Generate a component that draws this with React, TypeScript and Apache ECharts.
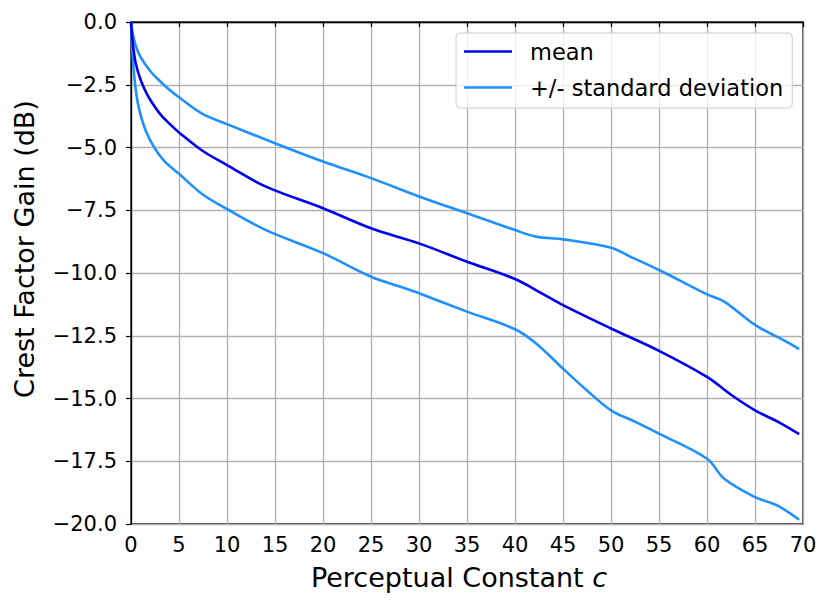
import React, { useEffect, useRef } from "react";
import * as echarts from "echarts";

const meanX = [0, 0.2, 0.5, 1, 1.5, 2, 3, 4, 5, 7.4, 10, 14, 20, 25, 30, 35, 40, 42.5, 45, 50, 55, 60, 62.5, 65, 67.5, 69.6];
const meanY = [0, -0.9, -1.65, -2.3, -2.75, -3.1, -3.65, -4.05, -4.4, -5.12, -5.7, -6.55, -7.42, -8.22, -8.82, -9.55, -10.24, -10.75, -11.28, -12.21, -13.1, -14.14, -14.85, -15.47, -15.95, -16.42];

const upperX = [0, 0.2, 0.5, 1, 2, 3, 4, 5, 7.4, 10, 15, 20, 25, 30, 35, 40, 42.2, 45, 50, 52, 55, 60, 61.8, 65, 68.3, 69.6];
const upperY = [0, -0.5, -0.95, -1.4, -1.95, -2.35, -2.7, -3.0, -3.65, -4.07, -4.83, -5.56, -6.22, -6.95, -7.62, -8.29, -8.55, -8.66, -8.99, -9.35, -9.88, -10.85, -11.14, -12.07, -12.74, -13.03];

const lowerX = [0, 0.15, 0.4, 0.8, 1.5, 2.5, 3.5, 5, 7.4, 10, 14, 20, 25, 28, 30, 35, 40, 42.2, 45, 47.5, 50, 52.6, 55, 60, 61.8, 65, 67.3, 69.6];
const lowerY = [0, -1.2, -2.4, -3.4, -4.3, -5.05, -5.55, -6.05, -6.85, -7.45, -8.28, -9.21, -10.15, -10.54, -10.81, -11.54, -12.24, -12.81, -13.81, -14.68, -15.47, -15.94, -16.4, -17.4, -18.2, -18.93, -19.26, -19.83];

const seriesNames = ["mean", "+/- standard deviation"];
const xLabel = "Perceptual Constant ";
const xLabelItalic = "c";
const yLabel = "Crest Factor Gain (dB)";

const pairs = (xs: number[], ys: number[]) => xs.map((x, i) => [x, ys[i]]);

const FONT = "DejaVu Sans";

export default function App() {
  const ref = useRef<HTMLDivElement>(null);
  useEffect(() => {
    if (!ref.current) return;
    const chart = echarts.init(ref.current, null, { renderer: "svg" });
    const lineStyleStd = { color: "#1e90ff", width: 2.6 };
    chart.setOption({
      animation: false,
      textStyle: { fontFamily: FONT },
      grid: {
        left: 131,
        right: 28,
        top: 22,
        bottom: 86,
        show: true,
        borderColor: "#000",
        borderWidth: 1.3,
        backgroundColor: "transparent",
      },
      legend: {
        orient: "vertical",
        left: 456,
        top: 33,
        data: seriesNames.map((n) => ({ name: n })),
        icon: "rect",
        itemWidth: 48,
        itemHeight: 2.7,
        itemGap: 13,
        textStyle: { fontSize: 22.5, color: "#000", fontFamily: FONT, padding: [0, 0, 0, 13] },
        backgroundColor: "rgba(255,255,255,0.8)",
        borderColor: "#cccccc",
        borderWidth: 1,
        borderRadius: 4,
        padding: [7, 9, 9, 8],
      },
      xAxis: {
        type: "value",
        min: 0,
        max: 70,
        interval: 5,
        axisLine: { show: true, lineStyle: { color: "#000", width: 1.3 } },
        axisTick: { show: true, length: 5, lineStyle: { color: "#000", width: 1.2 } },
        axisLabel: { fontSize: 21, color: "#000", margin: 10, fontFamily: FONT },
        splitLine: { show: true, lineStyle: { color: "#b0b0b0", width: 1.3 } },
        name: `{a|${xLabel}}{b|${xLabelItalic}}`,
        nameLocation: "middle",
        nameGap: 40,
        nameTextStyle: {
          padding: [0, 16, 0, 0],
          rich: {
            a: { fontSize: 27, color: "#000", fontFamily: FONT },
            b: { fontSize: 27, color: "#000", fontFamily: FONT, fontStyle: "italic" },
          },
        },
      },
      yAxis: {
        type: "value",
        min: -20,
        max: 0,
        interval: 2.5,
        axisLine: { show: true, lineStyle: { color: "#000", width: 1.3 } },
        axisTick: { show: true, length: 5, lineStyle: { color: "#000", width: 1.2 } },
        axisLabel: {
          fontSize: 21,
          color: "#000",
          margin: 14,
          fontFamily: FONT,
          formatter: (v: number) => v.toFixed(1).replace("-", "\u2212"),
        },
        splitLine: { show: true, lineStyle: { color: "#b0b0b0", width: 1.3 } },
        name: yLabel,
        nameLocation: "middle",
        nameGap: 93,
        nameTextStyle: { fontSize: 27, color: "#000", fontFamily: FONT, padding: [0, 0, 0, 48] },
      },
      series: [
        {
          name: seriesNames[1],
          type: "line",
          data: pairs(upperX, upperY),
          showSymbol: false,
          smooth: 0.35,
          lineStyle: lineStyleStd,
          itemStyle: { color: "#1e90ff" },
          z: 2,
        },
        {
          name: seriesNames[1],
          type: "line",
          data: pairs(lowerX, lowerY),
          showSymbol: false,
          smooth: 0.35,
          lineStyle: lineStyleStd,
          itemStyle: { color: "#1e90ff" },
          z: 2,
        },
        {
          name: seriesNames[0],
          type: "line",
          data: pairs(meanX, meanY),
          showSymbol: false,
          smooth: 0.35,
          lineStyle: { color: "#0000ee", width: 2.6 },
          itemStyle: { color: "#0000ee" },
          z: 3,
        },
      ],
    });
    return () => chart.dispose();
  }, []);
  return (
    <div
      ref={ref}
      style={{ position: "absolute", left: 0, top: 0, width: 831, height: 610, background: "#fff" }}
    />
  );
}
